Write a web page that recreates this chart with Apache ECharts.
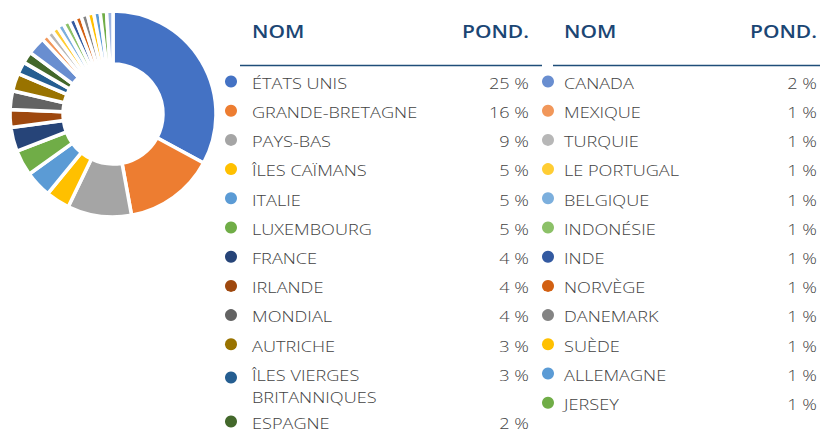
<!DOCTYPE html>
<html>
<head>
<meta charset="utf-8">
<script src="https://cdn.jsdelivr.net/npm/echarts@6/dist/echarts.min.js"></script>
<style>
html,body{margin:0;padding:0;background:#fff;}
#chart{width:820px;height:432px;}
</style>
</head>
<body>
<div id="chart"></div>
<script>
// Country names as listed in the table (left column, then right column)
const names = [
  'ÉTATS UNIS','GRANDE-BRETAGNE','PAYS-BAS','ÎLES CAÏMANS','ITALIE','LUXEMBOURG',
  'FRANCE','IRLANDE','MONDIAL','AUTRICHE','ÎLES VIERGES\nBRITANNIQUES','ESPAGNE',
  'CANADA','MEXIQUE','TURQUIE','LE PORTUGAL','BELGIQUE','INDONÉSIE',
  'INDE','NORVÈGE','DANEMARK','SUÈDE','ALLEMAGNE','JERSEY'
];
// Weights as printed in the table
const weightLabels = [
  '25 %','16 %','9 %','5 %','5 %','5 %','4 %','4 %','4 %','3 %','3 %','2 %',
  '2 %','1 %','1 %','1 %','1 %','1 %','1 %','1 %','1 %','1 %','1 %','1 %'
];
// Slice sizes as read from the drawn donut (degrees of arc), plus one unlabeled remainder slice
const sliceValues = [
  118, 51, 36, 13.5, 15, 14.5, 13.5, 10, 10.5, 10, 7, 6.5,
  10, 3.6, 3.6, 3.6, 3.6, 3.6, 3.6, 3.6, 3.6, 3.6, 3.6, 3.6
];
const otherSliceValue = 3.6;
const colors = [
  '#4472C4','#ED7D31','#A5A5A5','#FFC000','#5B9BD5','#70AD47',
  '#264478','#9E480E','#636363','#997300','#255E91','#43682B',
  '#698ED0','#F1975A','#B7B7B7','#FFCD33','#7CAFDD','#8CC168',
  '#335AA1','#D26012','#848484','#FFC000','#5B9BD5','#70AD47'
];
const otherColor = '#9DB4E0';
const headerName = 'NOM';
const headerWeight = 'POND.';

const chart = echarts.init(document.getElementById('chart'), null, {renderer: 'svg'});

const pieData = names.map((n, i) => ({name: n, value: sliceValues[i], itemStyle: {color: colors[i]}}));
pieData.push({name: 'AUTRES', value: otherSliceValue, itemStyle: {color: otherColor}});

const FONT = '"Open Sans", "DejaVu Sans", sans-serif';
const textColor = '#424242';
const headColor = '#1B4674';
const rowScale = 1.21, headScale = 1.2;
const graphics = [];
const cols = [
  {dotX: 231, nameX: 252, valX: 529, lineX1: 240, lineX2: 542, start: 0},
  {dotX: 548, nameX: 564, valX: 817, lineX1: 553, lineX2: 820, start: 12}
];
const rowY0 = 83, rowStep = 29.2, extraLine = 21;
cols.forEach(c => {
  graphics.push({type: 'text', x: c.nameX, y: 31.5, scaleX: headScale, style: {text: headerName, font: '600 17.5px ' + FONT, fill: headColor, textVerticalAlign: 'middle'}});
  graphics.push({type: 'text', x: c.valX, y: 31.5, scaleX: headScale, style: {text: headerWeight, font: '600 17.5px ' + FONT, fill: headColor, textAlign: 'right', textVerticalAlign: 'middle'}});
  graphics.push({type: 'line', shape: {x1: c.lineX1, y1: 65.5, x2: c.lineX2, y2: 65.5}, style: {stroke: '#1F4E79', lineWidth: 1.5}});
  let extra = 0;
  for (let k = 0; k < 12; k++) {
    const i = c.start + k;
    let y = rowY0 + k * rowStep + extra;
    if (y > 420) y = 423;
    const twoLine = names[i].indexOf('\n') >= 0;
    graphics.push({type: 'circle', shape: {cx: c.dotX, cy: y - 1.5 + (twoLine ? 4 : 0), r: 6}, style: {fill: colors[i]}});
    graphics.push({type: 'text', x: c.nameX, y: twoLine ? y - 11 : y, scaleX: rowScale, style: {text: names[i], font: '300 15px ' + FONT, fill: textColor, textVerticalAlign: twoLine ? 'top' : 'middle', lineHeight: twoLine ? 22 : 16}});
    graphics.push({type: 'text', x: c.valX, y: y, scaleX: rowScale, style: {text: weightLabels[i], font: '300 15px ' + FONT, fill: textColor, textAlign: 'right', textVerticalAlign: 'middle', lineHeight: 16}});
    if (twoLine) extra += extraLine;
  }
});

chart.setOption({
  animation: false,
  backgroundColor: '#ffffff',
  series: [{
    type: 'pie',
    center: [113, 114],
    radius: [50, 103],
    startAngle: 90,
    clockwise: true,
    label: {show: false},
    labelLine: {show: false},
    emphasis: {disabled: true},
    itemStyle: {borderColor: '#ffffff', borderWidth: 3.5},
    data: pieData
  }],
  graphic: graphics
});
</script>
</body>
</html>
